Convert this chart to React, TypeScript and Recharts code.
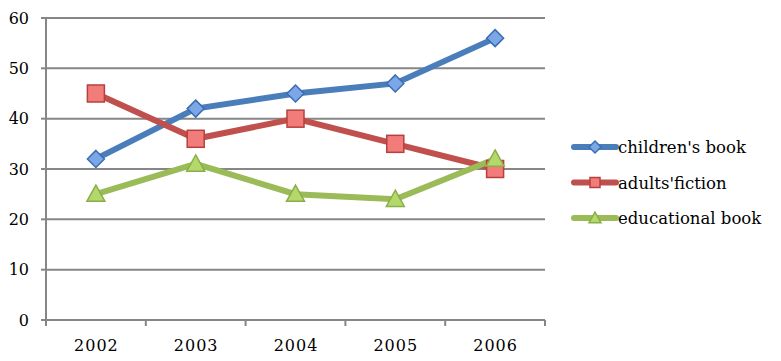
import { CartesianGrid, Line, LineChart, XAxis, YAxis } from "recharts";

const years = ["2002", "2003", "2004", "2005", "2006"];
const childrensBook = [32, 42, 45, 47, 56];
const adultsFiction = [45, 36, 40, 35, 30];
const educationalBook = [25, 31, 25, 24, 32];
const yTicks = [0, 10, 20, 30, 40, 50, 60];

const data = years.map((year, i) => ({
  year,
  children: childrensBook[i],
  adults: adultsFiction[i],
  educational: educationalBook[i],
}));

const W = 781;
const H = 361;
const MARGIN = { top: 18, right: 236, bottom: 0, left: 0 };
const Y_AXIS_W = 46;
const PLOT_W = W - MARGIN.right - MARGIN.left - Y_AXIS_W;
const BAND = PLOT_W / years.length;

const GRID = "#868686";
const FONT = "'DejaVu Serif', serif";
const BLUE = "#4a7ebb";
const RED = "#c0504d";
const GREEN = "#9bbb59";

function Diamond({ cx, cy, r = 8.5 }: { cx: number; cy: number; r?: number }) {
  return (
    <path
      d={`M${cx},${cy - r} L${cx + r},${cy} L${cx},${cy + r} L${cx - r},${cy} Z`}
      fill="#7ba7e6"
      stroke="#3c6cb4"
      strokeWidth={1.5}
    />
  );
}

function Square({ cx, cy, r = 8.5 }: { cx: number; cy: number; r?: number }) {
  return <rect x={cx - r} y={cy - r} width={r * 2} height={r * 2} fill="#f27c7a" stroke="#b5403d" strokeWidth={1.5} />;
}

function Triangle({ cx, cy, r = 9 }: { cx: number; cy: number; r?: number }) {
  return (
    <path
      d={`M${cx},${cy - r} L${cx + r},${cy + r * 0.8} L${cx - r},${cy + r * 0.8} Z`}
      fill="#b5d86d"
      stroke="#8aae48"
      strokeWidth={1.5}
    />
  );
}

const series = [
  { key: "children", name: "children's book", color: BLUE, Marker: Diamond, legendR: 6 },
  { key: "adults", name: "adults'fiction", color: RED, Marker: Square, legendR: 5 },
  { key: "educational", name: "educational book", color: GREEN, Marker: Triangle, legendR: 6 },
];

function XTick(props: any) {
  const { x, y, payload, index } = props;
  const last = index === years.length - 1;
  return (
    <g>
      <line x1={x - BAND / 2} x2={x - BAND / 2} y1={y} y2={y + 6} stroke={GRID} strokeWidth={2} />
      {last && <line x1={x + BAND / 2} x2={x + BAND / 2} y1={y} y2={y + 6} stroke={GRID} strokeWidth={2} />}
      <text x={x + 0.5} y={y + 31} textAnchor="middle" fontFamily={FONT} fontSize={16} letterSpacing={1} fill="#000">
        {payload.value}
      </text>
    </g>
  );
}

function LegendBox() {
  return (
    <svg width={216} height={110} style={{ position: "absolute", left: 562, top: 129 }}>
      {series.map((s, i) => {
        const cy = 18 + i * 35.5;
        return (
          <g key={s.key}>
            <line x1={12} x2={54} y1={cy} y2={cy} stroke={s.color} strokeWidth={6} strokeLinecap="round" />
            <s.Marker cx={33} cy={cy} r={s.legendR} />
            <text x={56} y={cy + 6} fontFamily={FONT} fontSize={16.5} fill="#000">
              {s.name}
            </text>
          </g>
        );
      })}
    </svg>
  );
}

export default function App() {
  return (
    <div style={{ position: "absolute", left: 0, top: 0, width: W, height: H, background: "#fff" }}>
      <LineChart width={W} height={H} data={data} margin={MARGIN}>
        <CartesianGrid stroke={GRID} strokeWidth={2} vertical={false} />
        <XAxis
          dataKey="year"
          scale="band"
          height={41}
          axisLine={{ stroke: GRID, strokeWidth: 2 }}
          tickLine={false}
          tickSize={0}
          tickMargin={0}
          tick={(p: any) => <XTick {...p} />}
          interval={0}
        />
        <YAxis
          width={Y_AXIS_W}
          domain={[0, 60]}
          ticks={yTicks}
          axisLine={{ stroke: GRID, strokeWidth: 2 }}
          tickLine={{ stroke: GRID, strokeWidth: 2 }}
          tickSize={5}
          tickMargin={12}
          tick={{ fill: "#000", fontSize: 16, fontFamily: FONT }}
        />
        {series.map((s) => (
          <Line
            key={s.key}
            type="linear"
            dataKey={s.key}
            name={s.name}
            stroke={s.color}
            strokeWidth={6}
            dot={(p: any) => <s.Marker key={p.index} cx={p.cx} cy={p.cy} />}
            activeDot={false}
            isAnimationActive={false}
          />
        ))}
      </LineChart>
      <LegendBox />
    </div>
  );
}
